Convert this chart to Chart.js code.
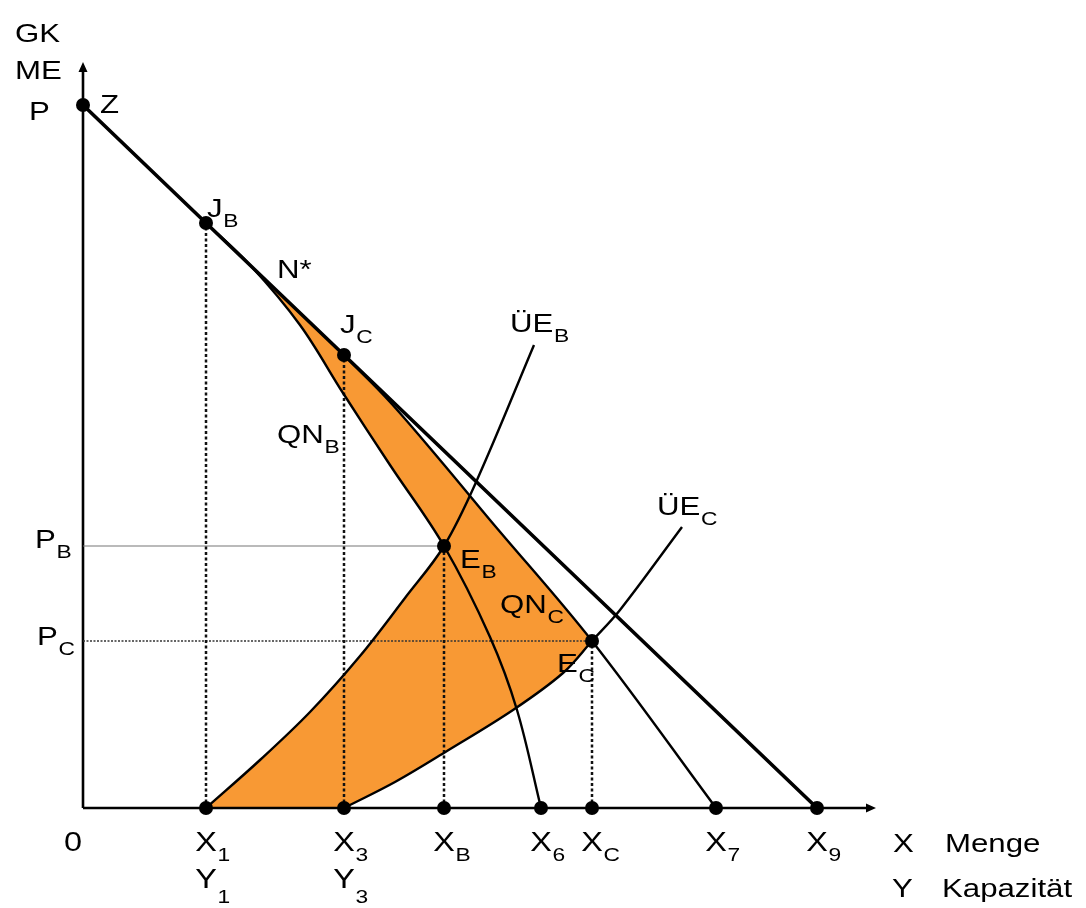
<!DOCTYPE html>
<html>
<head>
<meta charset="utf-8">
<script src="https://cdn.jsdelivr.net/npm/chart.js@4.4.1/dist/chart.umd.min.js"></script>
<style>
  html, body { margin: 0; padding: 0; background: #fff; }
</style>
</head>
<body>
<canvas id="chart" width="1086" height="908"></canvas>
<script>
// key points (x = Menge, y = GK / ME), units
var P  = [0, 70.3];
var JB = [12.3, 58.5];
var JC = [26.1, 45.3];
var EB = [36.1, 26.2];
var EC = [50.9, 16.7];

// curves
var mainLine = [P, JB, JC, [73.4, 0]];
var qnB = [JB, [16.7, 54.3], [21.7, 48.3], [26.0, 41.5], [30.7, 34.3], EB, [40.7, 17.1], [43.4, 9.8], [45.8, 0]];
var qnC = [JC, [30.7, 40.6], [35.7, 34.8], [40.7, 28.8], EC, [63.3, 0]];
var ueB = [[12.3, 0], [17.7, 4.8], [22.7, 9.6], [27.7, 15.2], [32.2, 21.0], EB, [39.4, 32.8], [45.1, 46.3]];
var ueC = [[26.1, 0], [31.2, 2.6], [36.4, 5.7], [43.0, 9.8], [48.0, 13.5], EC, [53.7, 19.8], [59.9, 28.1]];

// tick labels on the quantity axis
var xTicks     = [0, 12.3, 26.1, 36.1, 45.8, 50.9, 63.3, 73.4];
var xTickNames = [['0', ''], ['X', '1'], ['X', '3'], ['X', 'B'], ['X', '6'], ['X', 'C'], ['X', '7'], ['X', '9']];
var yTickNames = [['', ''], ['Y', '1'], ['Y', '3'], ['', ''], ['', ''], ['', ''], ['', ''], ['', '']];

// text labels: [text, subscript, x, y] (left / baseline, data units)
var labels = [
  ['GK', '', -6.8, 76.6],
  ['ME', '', -6.8, 72.9],
  ['P', '', -5.4, 68.8],
  ['Z', '', 1.7, 69.5],
  ['J', 'B', 12.4, 59.1],
  ['N*', '', 19.4, 53.0],
  ['J', 'C', 25.7, 47.5],
  ['QN', 'B', 19.4, 36.5],
  ['ÜE', 'B', 42.7, 47.6],
  ['ÜE', 'C', 57.4, 29.3],
  ['E', 'B', 37.7, 24.0],
  ['QN', 'C', 41.7, 19.5],
  ['E', 'C', 47.4, 13.6],
  ['P', 'B', -4.8, 26.0],
  ['P', 'C', -4.6, 16.3],
  ['X', '', 81.0, -4.4],
  ['Menge', '', 86.2, -4.4],
  ['Y', '', 80.9, -8.9],
  ['Kapazität', '', 85.9, -8.9]
];

var X_AXIS_END = 79.3;
var Y_AXIS_END = 74.6;
var STRETCH = 1.2;
var FONT = '"Liberation Sans", Arial, sans-serif';
var ORANGE = 'rgb(248,153,52)';

function pts(a) {
  return a.map(function (p) { return { x: p[0], y: p[1] }; });
}

function curve(a, w) {
  return {
    data: pts(a), showLine: true, borderColor: '#000', borderWidth: w,
    pointRadius: 0, tension: 0.35, fill: false, clip: false
  };
}

function straight(a, w, color, dash) {
  return {
    data: pts(a), showLine: true, borderColor: color, borderWidth: w,
    borderDash: dash || [], pointRadius: 0, tension: 0, fill: false, clip: false
  };
}

var dots = [P, JB, JC, EB, EC].concat(xTicks.slice(1).map(function (x) { return [x, 0]; }));

var datasets = [
  { data: pts(dots), pointRadius: 7, pointBackgroundColor: '#000', pointBorderWidth: 0, clip: false },
  straight(mainLine, 3.6, '#000'),
  curve(qnB, 2.4),   // 2
  curve(qnC, 2.4),   // 3
  curve(ueB, 2.4),   // 4
  curve(ueC, 2.4),   // 5
  straight([[JB[0], 0], JB], 2.5, '#111', [3, 2.5]),
  straight([[JC[0], 0], JC], 2.5, '#111', [3, 2.5]),
  straight([[EB[0], 0], EB], 2.5, '#111', [3, 2.5]),
  straight([[EC[0], 0], EC], 2.5, '#111', [3, 2.5]),
  straight([[0, EB[1]], EB], 1.2, '#777'),
  straight([[0, EC[1]], EC], 1.4, '#333', [2, 1.5])
];

// append part of a curve dataset to the current path
function addPart(ctx, chart, idx, from, to) {
  var line = chart.getDatasetMeta(idx).dataset;
  var rev = from > to;
  line.updateControlPoints(chart.chartArea, 'x');
  line.pathSegment(ctx, { start: Math.min(from, to), end: Math.max(from, to), loop: false }, { move: false, reverse: rev });
}

var diagramPlugin = {
  id: 'diagram',
  beforeDatasetsDraw: function (chart) {
    var ctx = chart.ctx;
    var xs = chart.scales.x, ys = chart.scales.y;
    var px = function (p) { return [xs.getPixelForValue(p[0]), ys.getPixelForValue(p[1])]; };

    // orange area
    ctx.save();
    ctx.beginPath();
    var a = px(JB);
    ctx.moveTo(a[0], a[1]);
    var b = px(JC);
    ctx.lineTo(b[0], b[1]);
    addPart(ctx, chart, 3, 0, qnC.indexOf(EC));
    addPart(ctx, chart, 5, ueC.indexOf(EC), 0);
    var c = px(ueB[0]);
    ctx.lineTo(c[0], c[1]);
    addPart(ctx, chart, 4, 0, ueB.indexOf(EB));
    addPart(ctx, chart, 2, qnB.indexOf(EB), 0);
    ctx.closePath();
    ctx.fillStyle = ORANGE;
    ctx.fill();
    ctx.restore();

    // axes with arrows
    var o = px([0, 0]);
    var xe = xs.getPixelForValue(X_AXIS_END);
    var ye = ys.getPixelForValue(Y_AXIS_END);
    ctx.save();
    ctx.strokeStyle = '#000';
    ctx.fillStyle = '#000';
    ctx.lineWidth = 2.6;
    ctx.beginPath();
    ctx.moveTo(o[0], o[1]);
    ctx.lineTo(xe - 6, o[1]);
    ctx.moveTo(o[0], o[1]);
    ctx.lineTo(o[0], ye + 6);
    ctx.stroke();
    ctx.beginPath();
    ctx.moveTo(xe, o[1]);
    ctx.lineTo(xe - 10, o[1] - 4.5);
    ctx.lineTo(xe - 10, o[1] + 4.5);
    ctx.closePath();
    ctx.moveTo(o[0], ye);
    ctx.lineTo(o[0] - 4.5, ye + 10);
    ctx.lineTo(o[0] + 4.5, ye + 10);
    ctx.closePath();
    ctx.fill();
    ctx.restore();
  },
  afterDatasetsDraw: function (chart) {
    var ctx = chart.ctx;
    var xs = chart.scales.x, ys = chart.scales.y;

    function text(x, y, t, sub, size, subSize, drop, centre) {
      ctx.save();
      ctx.font = size + 'px ' + FONT;
      var w = ctx.measureText(t).width;
      ctx.translate(centre ? x - w * STRETCH / 2 : x, y);
      ctx.scale(STRETCH, 1);
      ctx.fillStyle = '#000';
      ctx.textBaseline = 'alphabetic';
      ctx.fillText(t, 0, 0);
      if (sub) {
        ctx.font = subSize + 'px ' + FONT;
        ctx.fillText(sub, w + 0.5, drop);
      }
      ctx.restore();
    }

    labels.forEach(function (l) {
      text(xs.getPixelForValue(l[2]), ys.getPixelForValue(l[3]), l[0], l[1], 26, 19, 10, false);
    });

    var y0 = ys.getPixelForValue(0);
    xTicks.forEach(function (v, i) {
      var x = xs.getPixelForValue(v);
      if (i === 0) x -= 10;
      text(x, y0 + 43, xTickNames[i][0], xTickNames[i][1], 27, 19, 10, true);
      if (yTickNames[i][0]) {
        text(x, y0 + 80, yTickNames[i][0], yTickNames[i][1], 27, 19, 15, true);
      }
    });
  }
};

new Chart(document.getElementById('chart').getContext('2d'), {
  type: 'scatter',
  data: { datasets: datasets },
  options: {
    responsive: false,
    animation: false,
    layout: { padding: { left: 83, right: 203, top: 48, bottom: 100 } },
    plugins: { legend: { display: false }, tooltip: { enabled: false } },
    scales: {
      x: { type: 'linear', min: 0, max: 80, display: false },
      y: { type: 'linear', min: 0, max: 76, display: false }
    }
  },
  plugins: [diagramPlugin]
});
</script>
</body>
</html>
